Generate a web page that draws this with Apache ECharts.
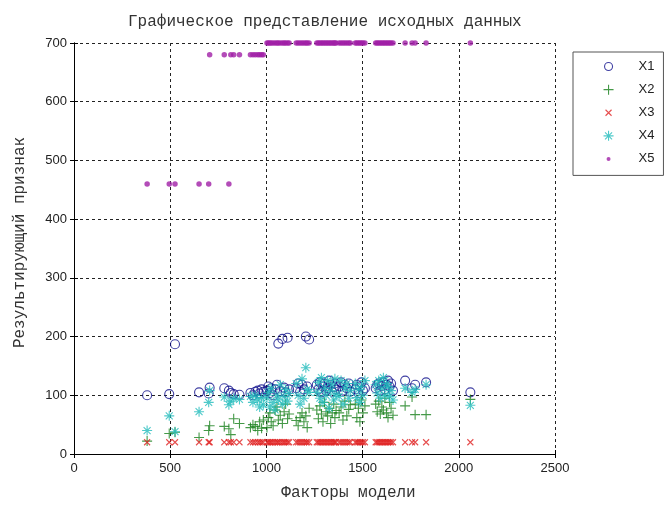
<!DOCTYPE html>
<html><head><meta charset="utf-8">
<script src="https://cdn.jsdelivr.net/npm/echarts@6/dist/echarts.min.js"></script>
<style>html,body{margin:0;padding:0;background:#fff}#c{width:665px;height:506px}</style>
</head><body><div id="c"></div>
<script>
// ---- data ----
const chartTitle = 'Графическое представление исходных данных';
const xAxisTitle = 'Факторы модели';
const yAxisTitle = 'Результирующий признак';
const seriesNames = ['X1', 'X2', 'X3', 'X4', 'X5'];
const xRange = [0, 2500, 500];
const yRange = [0, 700, 100];

const factorX = [380, 495, 525, 650, 700, 705, 781, 805, 815, 830, 860, 917, 930, 942, 955, 965, 975, 984,
  1003, 1010, 1018, 1025, 1035, 1045, 1055, 1062, 1072, 1083, 1092, 1100, 1110, 1118,
  1155, 1165, 1175, 1185, 1195, 1205, 1212, 1222,
  1262, 1270, 1278, 1286, 1294, 1302, 1310, 1318, 1326, 1334, 1342, 1350, 1356, 1362,
  1378, 1388, 1398, 1408, 1418, 1428, 1436,
  1462, 1470, 1478, 1486, 1494, 1502, 1512,
  1568, 1576, 1584, 1592, 1600, 1608, 1616, 1624, 1632, 1640, 1648, 1658,
  1721, 1757, 1773, 1830, 2060];
const x1 = [100, 102, 187, 105, 103, 113, 112, 108, 104, 102, 101, 104, 100, 106, 108, 103, 110, 106,
  108, 115, 104, 112, 100, 110, 118, 188, 107, 196, 113, 105, 198, 110,
  112, 120, 106, 118, 110, 200, 115, 195,
  118, 110, 122, 105, 115, 120, 108, 112, 125, 118, 106, 114, 120, 110,
  115, 122, 108, 118, 112, 120, 106,
  110, 118, 104, 115, 122, 108, 112,
  112, 118, 120, 108, 116, 122, 110, 118, 125, 115, 120, 108,
  125, 112, 118, 122, 105];
const x2 = [22, 35, 37, 28, 40, 48, 47, 43, 33, 60, 52, 45, 50, 47, 40, 55, 44, 58,
  45, 62, 70, 55, 48, 75, 80, 58, 66, 52, 72, 85, 60, 68,
  57, 48, 62, 70, 55, 65, 45, 78,
  75, 60, 82, 68, 55, 88, 72, 65, 78, 52, 70, 85, 62, 74,
  70, 80, 58, 90, 65, 76, 84,
  85, 62, 78, 55, 92, 70, 82,
  85, 72, 90, 68, 80, 75, 95, 70, 62, 88, 78, 66,
  82, 97, 67, 67, 93];
const x3 = [20, 20, 20, 20, 20, 20, 20, 20, 20, 20, 20, 20, 20, 20, 20, 20, 20, 20,
  20, 20, 20, 20, 20, 20, 20, 20, 20, 20, 20, 20, 20, 20,
  20, 20, 20, 20, 20, 20, 20, 20,
  20, 20, 20, 20, 20, 20, 20, 20, 20, 20, 20, 20, 20, 20,
  20, 20, 20, 20, 20, 20, 20,
  20, 20, 20, 20, 20, 20, 20,
  20, 20, 20, 20, 20, 20, 20, 20, 20, 20, 20, 20,
  20, 20, 20, 20, 20];
const x4 = [40, 65, 38, 72, 88, 108, 97, 84, 90, 95, 93, 98, 88, 100, 92, 80, 96, 84,
  95, 105, 80, 112, 88, 75, 100, 92, 118, 85, 98, 110, 90, 103,
  120, 100, 85, 128, 95, 147, 110, 105,
  105, 122, 95, 130, 88, 112, 100, 125, 78, 108, 118, 92, 128, 102,
  98, 125, 85, 112, 120, 95, 108,
  120, 96, 110, 88, 115, 100, 125,
  118, 104, 125, 95, 112, 130, 100, 120, 115, 98, 108, 92,
  112, 105, 110, 118, 83];
const x5 = [460, 460, 460, 460, 460, 680, 680, 460, 680, 680, 680, 680, 680, 680, 680, 680, 680, 680,
  700, 700, 700, 700, 700, 700, 700, 700, 700, 700, 700, 700, 700, 700,
  700, 700, 700, 700, 700, 700, 700, 700,
  700, 700, 700, 700, 700, 700, 700, 700, 700, 700, 700, 700, 700, 700,
  700, 700, 700, 700, 700, 700, 700,
  700, 700, 700, 700, 700, 700, 700,
  700, 700, 700, 700, 700, 700, 700, 700, 700, 700, 700, 700,
  700, 700, 700, 700, 700];

// ---- styling ----
const colors = ['#10108c', '#17801a', '#e02020', '#22bcbc', '#a01fa6'];
const symbols = [
  'circle',
  'path://M0,5L10,5M5,0L5,10',
  'path://M0,0L10,10M0,10L10,0',
  'path://M0,5L10,5M5,0L5,10M1.5,1.5L8.5,8.5M1.5,8.5L8.5,1.5',
  'circle'
];
const sizes = [9, 10, 6, 10, 5.5];
const legendIcons = [
  'path://M0,0M12,12M2,6A4,4 0 1 1 10,6A4,4 0 1 1 2,6Z',
  'path://M0,0M12,12M1,6L11,6M6,1L6,11',
  'path://M0,0M12,12M3,3L9,9M3,9L9,3',
  'path://M0,0M12,12M1,6L11,6M6,1L6,11M2.5,2.5L9.5,9.5M2.5,9.5L9.5,2.5',
  'path://M0,0M12,12M4,6A2,2 0 1 1 8,6A2,2 0 1 1 4,6Z'
];
const values = [x1, x2, x3, x4, x5];

function styleFor(i) {
  if (i === 4) return { color: colors[i], borderWidth: 0 };
  return { color: 'rgba(0,0,0,0)', borderColor: colors[i], borderWidth: i === 0 ? 1.1 : 1.1 };
}

const series = values.map((v, i) => ({
  name: seriesNames[i],
  type: 'scatter',
  symbol: symbols[i],
  symbolSize: sizes[i],
  itemStyle: styleFor(i),
  emphasis: { disabled: true },
  animation: false,
  data: factorX.map((x, k) => [x, v[k]])
}));

const sans = 'Liberation Sans, Arial, sans-serif';
const mono = 'Liberation Mono, Courier New, monospace';

const axisCommon = {
  axisLine: { show: true, lineStyle: { color: '#000', width: 1 } },
  axisTick: { show: true, inside: true, length: 4, lineStyle: { color: '#000' } }
};
const plain = v => String(v);

const option = {
  backgroundColor: '#fff',
  animation: false,
  title: {
    text: chartTitle, left: 123, top: 9,
    textStyle: { fontFamily: mono, fontSize: 16, fontWeight: 'normal', color: '#333' }
  },
  legend: {
    orient: 'vertical', left: 573, top: 52,
    padding: [8, 9, 10, 29],
    itemWidth: 12, itemHeight: 12, itemGap: 10, itemTextGap: 5,
    borderColor: '#555', borderWidth: 1,
    textStyle: { fontFamily: sans, fontSize: 13, color: '#222', padding: [0, 0, 0, 19] },
    selectedMode: false,
    data: seriesNames.map((n, i) => ({ name: n, icon: legendIcons[i], itemStyle: styleFor(i) }))
  },
  grid: { left: 74, right: 110, top: 43, bottom: 43, containLabel: false },
  xAxis: [{
    type: 'value', min: xRange[0], max: xRange[1], interval: xRange[2],
    ...axisCommon,
    axisLabel: { fontFamily: sans, fontSize: 13, color: '#222', margin: 8, formatter: plain },
    splitLine: { show: true, lineStyle: { color: '#222', type: [3, 3], width: 1 } },
    name: xAxisTitle, nameLocation: 'middle', nameGap: 31,
    nameTextStyle: { fontFamily: mono, fontSize: 16, color: '#333', padding: [0, 0, 0, 68] }
  }, {
    type: 'value', position: 'top', min: xRange[0], max: xRange[1], interval: xRange[2],
    ...axisCommon, axisLabel: { show: false }, splitLine: { show: false }
  }],
  yAxis: [{
    type: 'value', min: yRange[0], max: yRange[1], interval: yRange[2],
    ...axisCommon,
    axisLabel: { fontFamily: sans, fontSize: 13, color: '#222', margin: 7, formatter: plain },
    splitLine: { show: true, lineStyle: { color: '#222', type: [3, 3], width: 1 } },
    name: yAxisTitle, nameLocation: 'middle', nameGap: 46,
    nameTextStyle: { fontFamily: mono, fontSize: 16, color: '#333', padding: [0, 0, 0, 12] }
  }, {
    type: 'value', position: 'right', min: yRange[0], max: yRange[1], interval: yRange[2],
    ...axisCommon, axisLabel: { show: false }, splitLine: { show: false }
  }],
  series: series
};

const chart = echarts.init(document.getElementById('c'), null, { renderer: 'canvas' });
chart.setOption(option);
</script>
</body></html>
